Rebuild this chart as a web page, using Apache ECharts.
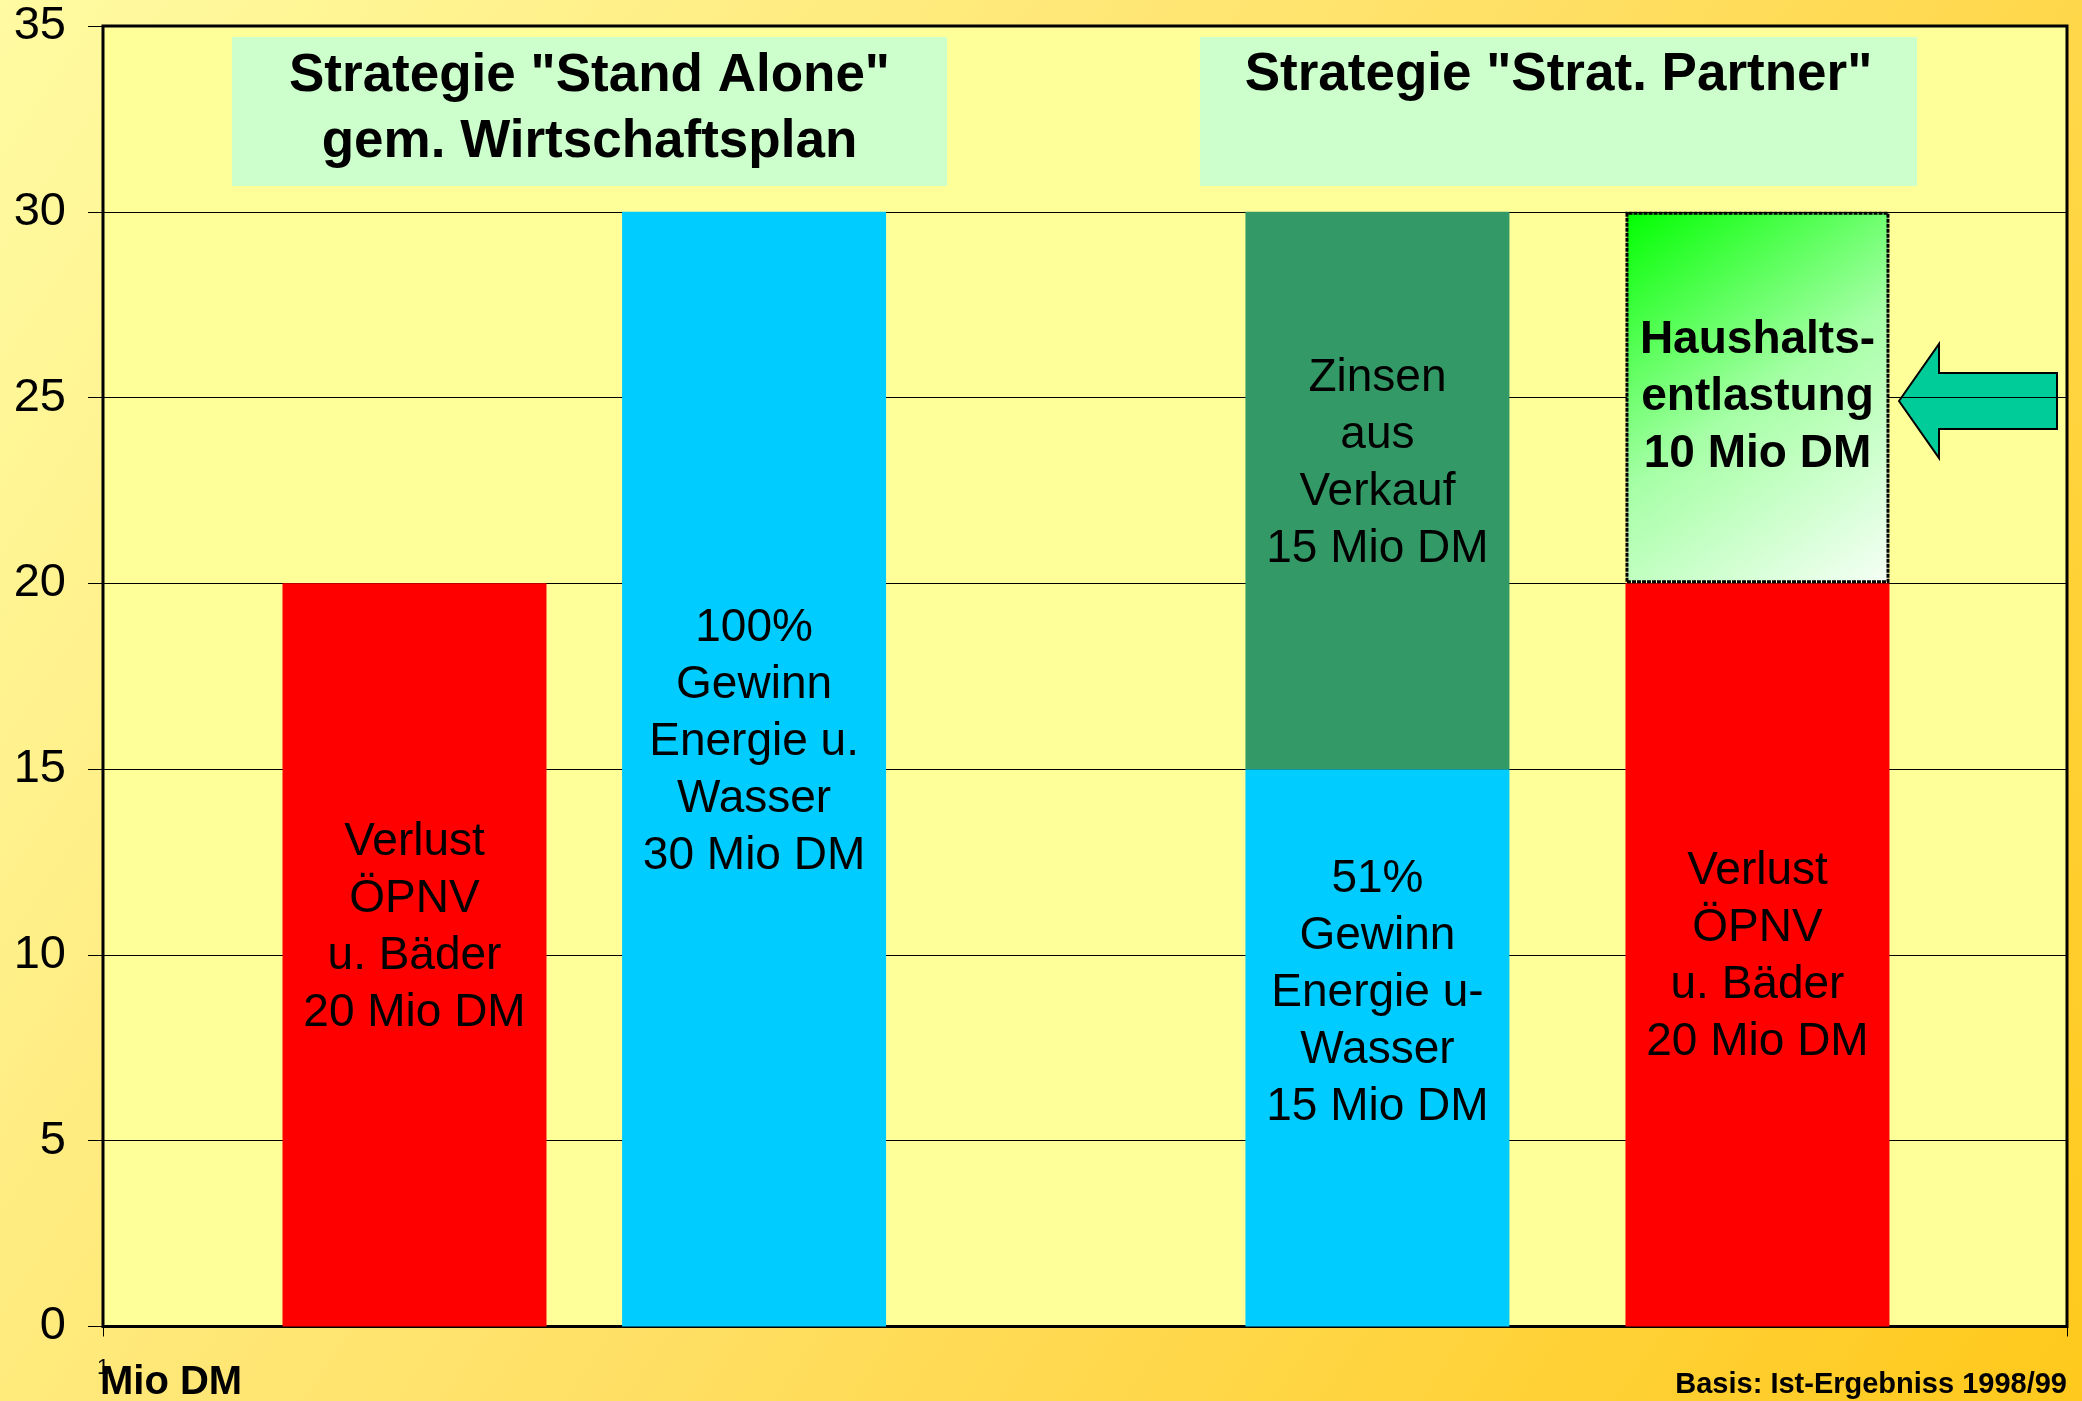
<!DOCTYPE html>
<html>
<head>
<meta charset="utf-8">
<script src="https://cdn.jsdelivr.net/npm/echarts@6/dist/echarts.min.js"></script>
<style>
  html, body { margin: 0; padding: 0; }
  #chart { width: 2082px; height: 1401px; }
</style>
</head>
<body>
<div id="chart"></div>
<script>
// Werte in Mio DM
var strategien = ['Strategie "Stand Alone"\ngem. Wirtschaftsplan', 'Strategie "Strat. Partner"'];
var untenWerte = [20, 30, 15, 20];
var obenWerte = [null, null, 15, 10];
var untenText = [
  'Verlust\nÖPNV\nu. Bäder\n20 Mio DM',
  '100%\nGewinn\nEnergie u.\nWasser\n30 Mio DM',
  '51%\nGewinn\nEnergie u-\nWasser\n15 Mio DM',
  'Verlust\nÖPNV\nu. Bäder\n20 Mio DM'
];
var obenText = ['', '', 'Zinsen\naus\nVerkauf\n15 Mio DM', 'Haushalts-\nentlastung\n10 Mio DM'];
var yMin = 0, yMax = 35, yStep = 5;
var einheit = 'Mio DM';
var quelle = 'Basis: Ist-Ergebniss 1998/99';

// Lage der Saeulen auf der x-Achse (Prozent der Plotbreite) und Textversatz
var saeulenX = [15.86, 33.15, 64.89, 84.24];
var versatzUnten = [-27, -27, -55, 2];
var versatzOben = [0, 0, -27, 0];

var rot = '#FF0000', cyan = '#00CCFF', gruen = '#339966';
var farbenUnten = [rot, cyan, cyan, rot];
var verlauf = new echarts.graphic.LinearGradient(0, 0, 1, 1, [
  { offset: 0, color: '#00FF00' },
  { offset: 0.5, color: '#A6FFA6' },
  { offset: 1, color: '#F6FFF6' }
]);
var FONT = '"Liberation Sans", Arial, sans-serif';

var chart = echarts.init(document.getElementById('chart'));

// Wert zuerst, damit der Stapel auf der y-Achse rechnet
var untenDaten = untenWerte.map(function (v, i) {
  return {
    value: [v, saeulenX[i]],
    itemStyle: { color: farbenUnten[i] },
    label: { formatter: untenText[i], offset: [0, versatzUnten[i]] }
  };
});
var obenDaten = obenWerte.map(function (v, i) {
  var item = {
    value: [v == null ? 0 : v, saeulenX[i]],
    label: { formatter: obenText[i], offset: [0, versatzOben[i]] }
  };
  if (v == null) item.label.show = false;
  if (i === 2) item.itemStyle = { color: gruen };
  if (i === 3) {
    item.itemStyle = { color: verlauf, borderColor: '#000', borderWidth: 3, borderType: [4, 1] };
    item.label.fontWeight = 'bold';
  }
  return item;
});

var labelBasis = {
  show: true,
  position: 'inside',
  color: '#000',
  fontFamily: FONT,
  fontSize: 46,
  lineHeight: 57,
  textBorderWidth: 0
};

chart.setOption({
  backgroundColor: {
    type: 'linear', x: 0, y: 0, x2: 1, y2: 1,
    colorStops: [
      { offset: 0, color: '#FFFBA2' },
      { offset: 0.5, color: '#FFE066' },
      { offset: 1, color: '#FFC91C' }
    ]
  },
  animation: false,
  grid: {
    left: 103, top: 26, right: 15, bottom: 74.5,
    show: true,
    backgroundColor: '#FFFF99',
    borderColor: '#000',
    borderWidth: 3,
    containLabel: false,
    outerBoundsMode: 'none'
  },
  xAxis: {
    type: 'value',
    min: 0, max: 100, interval: 100,
    axisLine: { show: false },
    axisTick: { show: true, length: 10, lineStyle: { color: '#000', width: 1 } },
    splitLine: { show: false },
    axisLabel: {
      margin: 30,
      fontSize: 22,
      fontFamily: FONT,
      color: '#000',
      formatter: function (v) { return v === 0 ? '1' : ''; }
    }
  },
  yAxis: {
    type: 'value',
    min: yMin, max: yMax, interval: yStep,
    axisLine: { show: false },
    axisTick: { show: true, length: 15, lineStyle: { color: '#000', width: 1 } },
    splitLine: { show: true, lineStyle: { color: '#000', width: 1 } },
    axisLabel: { margin: 37, fontSize: 47, fontFamily: FONT, color: '#000' }
  },
  series: [
    {
      name: 'unten',
      type: 'bar',
      stack: 'saeule',
      barWidth: 264,
      encode: { x: 1, y: 0 },
      label: labelBasis,
      data: untenDaten
    },
    {
      name: 'oben',
      type: 'bar',
      stack: 'saeule',
      barWidth: 264,
      encode: { x: 1, y: 0 },
      label: labelBasis,
      data: obenDaten
    }
  ],
  graphic: [
    { type: 'rect', shape: { x: 232, y: 37, width: 715, height: 149 }, style: { fill: '#CCFFCC' } },
    { type: 'rect', shape: { x: 1200, y: 37, width: 717, height: 149 }, style: { fill: '#CCFFCC' } },
    {
      type: 'text', x: 589.5, y: 109.6,
      style: { text: strategien[0], font: 'bold 53px ' + FONT, fill: '#000', align: 'center', verticalAlign: 'middle', lineHeight: 66 }
    },
    {
      type: 'text', x: 1558.5, y: 75.6,
      style: { text: strategien[1], font: 'bold 53px ' + FONT, fill: '#000', align: 'center', verticalAlign: 'middle' }
    },
    {
      // Pfeil auf Haushaltsentlastung
      type: 'polygon',
      shape: { points: [[1899, 401], [1939, 344], [1939, 373], [2057, 373], [2057, 429], [1939, 429], [1939, 458]] },
      style: { fill: '#00CC99', stroke: '#000', lineWidth: 2 }
    },
    {
      type: 'text', x: 100, y: 1383,
      style: { text: einheit, font: 'bold 40px ' + FONT, fill: '#000', align: 'left', verticalAlign: 'middle' }
    },
    {
      type: 'text', x: 2067, y: 1385,
      style: { text: quelle, font: 'bold 29px ' + FONT, fill: '#000', align: 'right', verticalAlign: 'middle' }
    }
  ]
});
</script>
</body>
</html>
